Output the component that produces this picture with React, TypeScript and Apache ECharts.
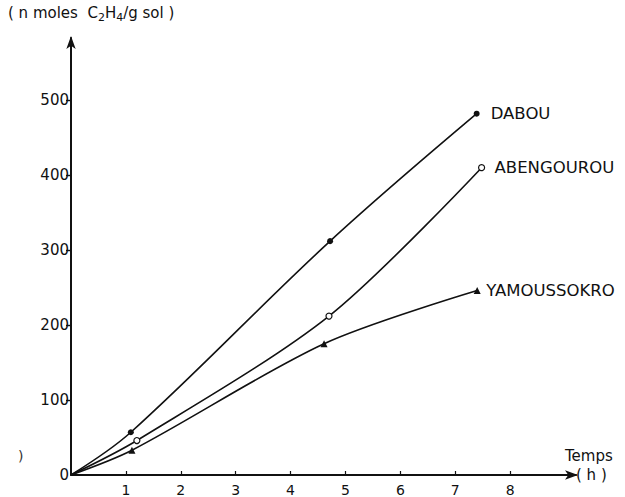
import React, { useEffect, useRef } from "react";
import * as echarts from "echarts";

// Ethylene produced over time (h), n moles C2H4 per g of soil
const dabou: [number, number][] = [[0, 0], [1.09, 57], [4.72, 312], [7.39, 482]];
const abengourou: [number, number][] = [[0, 0], [1.2, 46], [4.7, 212], [7.48, 410]];
const yamoussokro: [number, number][] = [[0, 0], [1.11, 33], [4.61, 175], [7.4, 246]];

const xTicks = [1, 2, 3, 4, 5, 6, 7, 8];
const yLabels = [0, 100, 200, 300, 400, 500];
const yTicks = [100, 200, 300, 400, 500];

const FONT = "DejaVu Sans";
const INK = "#111";

function points(data: [number, number][], symbol: string, filled: boolean) {
  return data.map(([x, y], i) => ({
    value: [x, y],
    symbol: i === 0 ? "none" : symbol,
    itemStyle: { color: filled ? INK : "#fff", borderColor: INK, borderWidth: filled ? 0 : 1.2 },
  }));
}

export default function App() {
  const ref = useRef<HTMLDivElement>(null);

  useEffect(() => {
    if (!ref.current) return;
    const chart = echarts.init(ref.current, null, { renderer: "svg" });

    const series = [
      { name: "DABOU", data: dabou, symbol: "circle", size: 6, filled: true, dist: 14, smooth: 0.35 },
      { name: "ABENGOUROU", data: abengourou, symbol: "circle", size: 6, filled: false, dist: 13, smooth: 0.3 },
      { name: "YAMOUSSOKRO", data: yamoussokro, symbol: "triangle", size: 7, filled: true, dist: 9, smooth: 0.3 },
    ].map((s) => ({
      type: "line",
      name: s.name,
      data: points(s.data, s.symbol, s.filled),
      smooth: s.smooth,
      symbolSize: s.size,
      showSymbol: true,
      lineStyle: { color: INK, width: 1.6 },
      itemStyle: { color: INK },
      endLabel: {
        show: true,
        formatter: "{a}",
        distance: s.dist,
        color: INK,
        fontFamily: FONT,
        fontSize: 16.5,
      },
    }));

    chart.setOption({
      animation: false,
      backgroundColor: "#fff",
      textStyle: { fontFamily: FONT, color: INK },
      grid: { left: 71, right: 49, top: 38, bottom: 20, containLabel: false },
      xAxis: {
        type: "value",
        min: 0,
        max: 9.2,
        interval: 1,
        splitLine: { show: false },
        axisLine: {
          lineStyle: { color: INK, width: 2 },
          symbol: ["none", "arrow"],
          symbolSize: [7, 13],
          symbolOffset: [0, 2],
        },
        axisTick: { show: true, inside: true, length: 4, customValues: xTicks, lineStyle: { color: INK, width: 1.2 } },
        axisLabel: { customValues: xTicks, color: INK, fontFamily: FONT, fontSize: 14, margin: 8 },
        name: "{t|Temps}\n{h|( h )}",
        nameLocation: "end",
        nameGap: 0,
        nameTextStyle: {
          align: "left",
          verticalAlign: "bottom",
          padding: [0, 0, -9, 0],
          rich: {
            t: { fontFamily: FONT, fontSize: 15, color: INK, lineHeight: 19, padding: [0, 0, 0, -11] },
            h: { fontFamily: FONT, fontSize: 15, color: INK, lineHeight: 19, padding: [0, 0, 0, 0] },
          },
        },
      },
      yAxis: {
        type: "value",
        min: 0,
        max: 583,
        interval: 100,
        splitLine: { show: false },
        axisLine: {
          lineStyle: { color: INK, width: 2 },
          symbol: ["none", "arrow"],
          symbolSize: [7, 13],
          symbolOffset: [0, 2],
        },
        axisTick: { show: true, length: 5, customValues: yTicks, lineStyle: { color: INK, width: 1.4 } },
        axisLabel: { customValues: yLabels, color: INK, fontFamily: FONT, fontSize: 15, margin: 2 },
      },
      graphic: [
        {
          type: "text",
          left: 8,
          top: 5,
          style: {
            text: "( n moles  C{s|2}H{s|4}/g sol )",
            fontFamily: FONT,
            fontSize: 15,
            fill: INK,
            rich: {
              s: { fontFamily: FONT, fontSize: 11, verticalAlign: "bottom", padding: [9, 0, 0, 0] },
            },
          },
        },
        {
          type: "text",
          left: 18,
          top: 449,
          style: { text: ")", fontFamily: FONT, fontSize: 14, fill: "#333" },
        },
      ],
      series,
    });

    return () => chart.dispose();
  }, []);

  return (
    <div
      ref={ref}
      style={{ position: "absolute", left: 0, top: 0, width: 625, height: 497, background: "#fff" }}
    />
  );
}
